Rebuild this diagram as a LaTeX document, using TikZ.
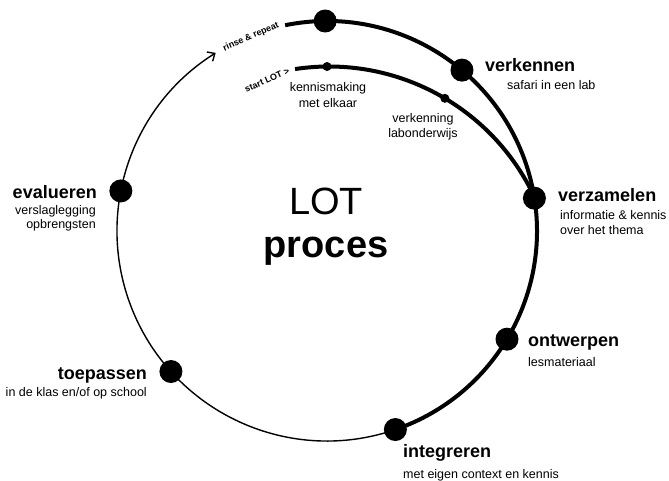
\documentclass[tikz,border=0pt]{standalone}
\usepackage{fontspec}
\setmainfont{Liberation Sans}
\usetikzlibrary{arrows.meta}
\begin{document}
\begin{tikzpicture}[x=1pt,y=1pt,
  dot/.style={circle,fill=black,inner sep=0pt,minimum size=23pt},
  smalldot/.style={circle,fill=black,inner sep=0pt,minimum size=9pt},
  phase/.style={inner sep=0pt,font=\fontsize{18}{20}\selectfont\bfseries},
  sub/.style={inner sep=0pt,font=\fontsize{12.5}{15}\selectfont},
  tag/.style={inner sep=0pt,rotate=24,font=\fontsize{9}{10}\selectfont\bfseries},
  heavy/.style={line width=4pt},
  light/.style={line width=1.4pt}]
\useasboundingbox (-327,-250) rectangle (342,231);
% dots on the cycle
\node [dot] (top) at (90.5:210) {};
\node [dot] (verkennen) at (50:210) {};
\node [dot] (verzamelen) at (9:210) {};
\node [dot] (ontwerpen) at (-31:210) {};
\node [dot] (integreren) at (-71:210) {};
\node [dot] (toepassen) at (-138:210) {};
\node [dot] (evalueren) at (169:210) {};
\node [smalldot] (kennis) at ([shift={(2,-62.5)}]90.5:227) {};
\node [smalldot] (lab) at ([shift={(2,-62.5)}]59.3:227) {};
\coordinate (rinse) at (101.5:210);
\coordinate (lotstart) at ([shift={(2,-62.5)}]98.6:227);
% the cycle
\draw [heavy] (rinse) arc [start angle=101.5, end angle=-71, radius=210];
\draw [light, -{Straight Barb[length=6pt,width=11pt]}] (integreren.center) arc [start angle=-71, end angle=-238, radius=210];
\draw [heavy] (lotstart) arc [start angle=98.6, end angle=25, radius=227];
% labels
\node [tag] (rinsetag) at (-76,194) {rinse \& repeat};
\node [tag] (starttag) at (-60,151) {start LOT >};
\node [anchor=base, inner sep=0pt, font=\fontsize{38}{40}\selectfont] (lot) at (-1,16) {LOT};
\node [anchor=base, inner sep=0pt, font=\fontsize{38}{40}\selectfont\bfseries] (proces) at (-1,-27) {proces};
\node [phase, anchor=west] (verkennentxt) at (158,166) {verkennen};
\node [sub, anchor=west] at (180,146) {safari in een lab};
\node [phase, anchor=west] (verzamelentxt) at (231,36) {verzamelen};
\node [sub, anchor=west, align=left] at (233,8.5) {informatie \& kennis\\over het thema};
\node [phase, anchor=west] (ontwerpentxt) at (201,-111) {ontwerpen};
\node [sub, anchor=west] at (201,-131) {lesmateriaal};
\node [phase, anchor=west] (integrerentxt) at (76,-222) {integreren};
\node [sub, anchor=west] at (76,-244) {met eigen context en kennis};
\node [phase, anchor=east] (toepassentxt) at (-180,-144) {toepassen};
\node [sub, anchor=east] at (-180,-162) {in de klas en/of op school};
\node [phase, anchor=east] (evaluerentxt) at (-230,39) {evalueren};
\node [sub, anchor=east, align=right, font=\fontsize{12.5}{14}\selectfont] at (-231,12.5) {verslaglegging\\opbrengsten};
\node [sub, align=center, font=\fontsize{12.5}{16}\selectfont] at (1,136) {kennismaking\\met elkaar};
\node [sub, align=center] at (96,104.5) {verkenning\\labonderwijs};
\end{tikzpicture}
\end{document}
